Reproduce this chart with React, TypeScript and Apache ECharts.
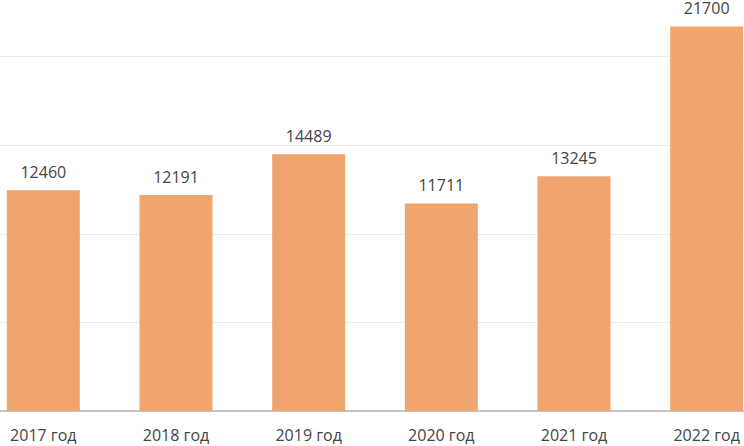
import React, { useEffect, useRef } from "react";
import * as echarts from "echarts";

const categories = ["2017 год", "2018 год", "2019 год", "2020 год", "2021 год", "2022 год"];
const values = [12460, 12191, 14489, 11711, 13245, 21700];

export default function App() {
  const ref = useRef<HTMLDivElement>(null);
  useEffect(() => {
    const chart = echarts.init(ref.current!, null, { renderer: "svg" });
    chart.setOption({
      animation: false,
      grid: { left: 0, right: 0, top: 0, bottom: 35, containLabel: false },
      xAxis: {
        type: "category",
        data: categories,
        axisLine: { lineStyle: { color: "#b4b4b4", width: 1.5 } },
        axisTick: { show: false },
        axisLabel: { color: "#444", fontFamily: "Open Sans", fontSize: 16, margin: 16 },
      },
      yAxis: {
        type: "value",
        min: 0,
        max: 25000,
        interval: 5000,
        axisLabel: { show: false },
        axisLine: { show: false },
        axisTick: { show: false },
        splitLine: { lineStyle: { color: "#ececec", width: 1 } },
      },
      series: [
        {
          type: "bar",
          data: values,
          barWidth: 73,
          itemStyle: { color: "#F0A46E" },
          label: {
            show: true,
            position: "top",
            distance: 10,
            color: "#444",
            fontFamily: "Open Sans",
            fontSize: 16,
          },
        },
      ],
    });
    return () => chart.dispose();
  }, []);
  return (
    <div
      ref={ref}
      style={{ width: 796, height: 478, position: "fixed", left: -23, top: -32, background: "#fff" }}
    />
  );
}
